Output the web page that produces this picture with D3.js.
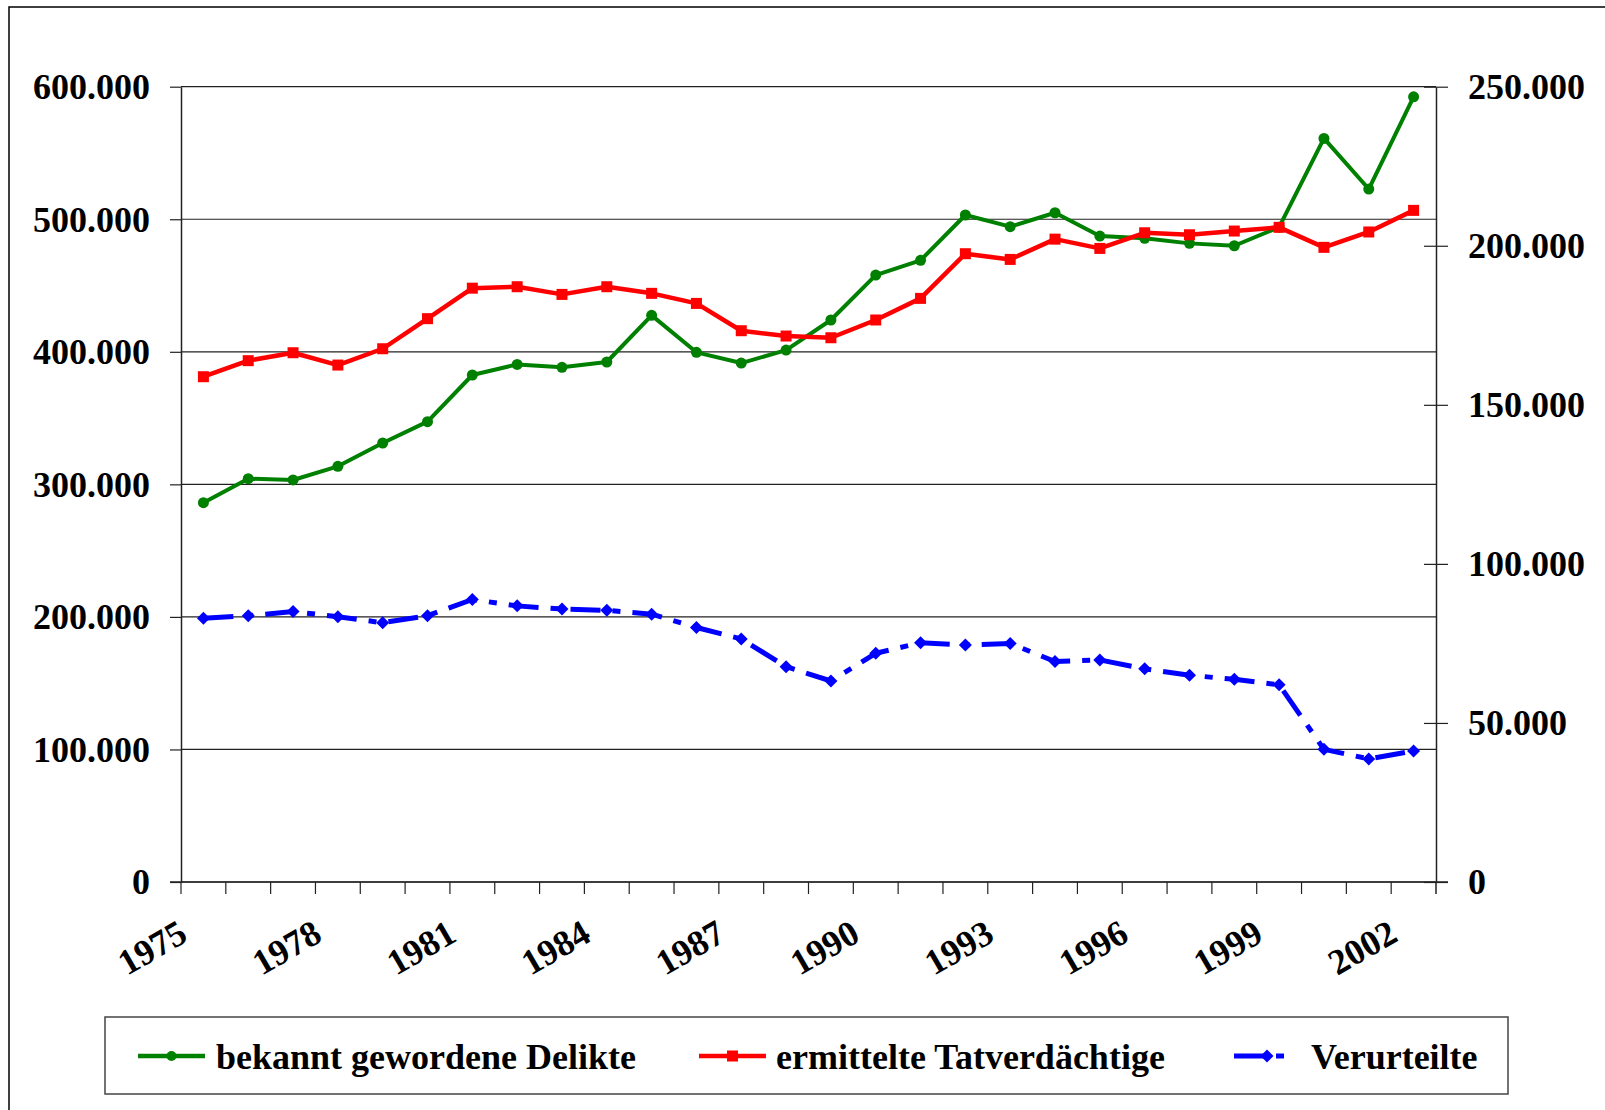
<!DOCTYPE html>
<html>
<head>
<meta charset="utf-8">
<script src="https://cdn.jsdelivr.net/npm/d3@7"></script>
<style>
  html, body { margin: 0; padding: 0; background: #fff; }
  svg { display: block; }
  text { font-family: "Liberation Serif", "Times New Roman", serif; font-weight: bold; fill: #000; }
</style>
</head>
<body>
<svg id="chart" width="1605" height="1110"></svg>
<script>
const years = [1975,1976,1977,1978,1979,1980,1981,1982,1983,1984,1985,1986,1987,1988,1989,
               1990,1991,1992,1993,1994,1995,1996,1997,1998,1999,2000,2001,2002];
const labelYears = [1975,1978,1981,1984,1987,1990,1993,1996,1999,2002];
// bekannt gewordene Delikte (left axis)
const delikte = [286200,304300,303300,313600,331200,347300,382500,390500,388300,392300,427500,399600,391500,401300,424000,
                 457900,469000,503200,494400,504900,487300,485600,481800,480000,494000,561000,522800,592400];
// ermittelte Tatverdächtige (left axis)
const tatverdaechtige = [381200,393300,399300,390000,402300,425000,448000,449100,443300,449100,444100,436500,415900,411900,410600,
                         424000,440300,474000,469700,485000,478000,489800,488300,491100,493900,478800,490400,506700];
// Verurteilte (right axis)
const verurteilte = [82900,83700,85000,83400,81500,83700,88800,86800,85800,85400,84200,80000,76400,67700,63200,
                     71900,75200,74500,75000,69300,69800,67000,65000,63700,62000,41700,38700,41200];
const leftTicks = [0,100000,200000,300000,400000,500000,600000];
const rightTicks = [0,50000,100000,150000,200000,250000];
const seriesNames = ["bekannt gewordene Delikte","ermittelte Tatverdächtige","Verurteilte"];

const svg = d3.select("#chart");
const locale = d3.formatLocale({decimal: ",", thousands: ".", grouping: [3], currency: ["", " €"]});
const fmt = locale.format(",");

const plotL = 181, plotR = 1436, plotT = 86.7, plotB = 882;
const x = d3.scaleBand().domain(years).range([plotL, plotR]).padding(0);
const yL = d3.scaleLinear().domain([0, 600000]).range([plotB, plotT]);
const yR = d3.scaleLinear().domain([0, 250000]).range([plotB, plotT]);
const cx = d => x(d) + x.bandwidth() / 2;

// outer border
svg.append("rect").attr("x", 9).attr("y", 7).attr("width", 1620).attr("height", 1130)
  .attr("fill", "none").attr("stroke", "#000").attr("stroke-width", 1.5);

// gridlines
svg.append("g").selectAll("line").data(leftTicks).join("line")
  .attr("x1", plotL).attr("x2", plotR)
  .attr("y1", d => yL(d)).attr("y2", d => yL(d))
  .attr("stroke", "#222").attr("stroke-width", 1.2);

// left axis
const gL = svg.append("g").attr("transform", `translate(${plotL},0)`)
  .call(d3.axisLeft(yL).tickValues(leftTicks).tickFormat(fmt).tickSizeInner(11).tickSizeOuter(0).tickPadding(20));
gL.select(".domain").attr("stroke", "#222").attr("stroke-width", 1.5);
gL.selectAll(".tick line").attr("stroke", "#222").attr("stroke-width", 1.2);
gL.selectAll(".tick text").attr("font-size", 36).attr("font-family", "Liberation Serif").attr("font-weight", "bold")
  .attr("dy", "0.33em");

// right axis
const gR = svg.append("g").attr("transform", `translate(${plotR},0)`)
  .call(d3.axisRight(yR).tickValues(rightTicks).tickFormat(fmt).tickSizeInner(12).tickSizeOuter(0).tickPadding(20));
gR.select(".domain").attr("stroke", "#222").attr("stroke-width", 1.5);
gR.selectAll(".tick line").attr("x1", -12).attr("stroke", "#222").attr("stroke-width", 1.2);
gR.selectAll(".tick text").attr("font-size", 36).attr("font-family", "Liberation Serif").attr("font-weight", "bold")
  .attr("dy", "0.33em");
gR.append("line").attr("x1", 0).attr("x2", 0).attr("y1", plotB).attr("y2", plotB + 12)
  .attr("stroke", "#222").attr("stroke-width", 1.5);

// x axis
const gX = svg.append("g");
gX.append("line").attr("x1", plotL - 11).attr("x2", plotR + 12).attr("y1", plotB).attr("y2", plotB)
  .attr("stroke", "#222").attr("stroke-width", 1.5);
gX.selectAll("line.tk").data(years).join("line").attr("class", "tk")
  .attr("x1", d => x(d)).attr("x2", d => x(d)).attr("y1", plotB).attr("y2", plotB + 12)
  .attr("stroke", "#222").attr("stroke-width", 1.2);
gX.selectAll("text").data(labelYears).join("text")
  .attr("text-anchor", "end").attr("font-size", 36)
  .attr("transform", d => `translate(${cx(d) - 14},940) rotate(-30)`)
  .text(d => d);

// lines
const lineL = d3.line().x((d, i) => cx(years[i])).y(d => yL(d));
const lineR = d3.line().x((d, i) => cx(years[i])).y(d => yR(d));

// green
svg.append("path").datum(delikte).attr("d", lineL).attr("fill", "none")
  .attr("stroke", "#008000").attr("stroke-width", 4).attr("stroke-linejoin", "round");
svg.append("g").selectAll("circle").data(delikte).join("circle")
  .attr("cx", (d, i) => cx(years[i])).attr("cy", d => yL(d)).attr("r", 5.5).attr("fill", "#008000");

// red
svg.append("path").datum(tatverdaechtige).attr("d", lineL).attr("fill", "none")
  .attr("stroke", "#ff0000").attr("stroke-width", 4.5).attr("stroke-linejoin", "round");
svg.append("g").selectAll("rect").data(tatverdaechtige).join("rect")
  .attr("x", (d, i) => cx(years[i]) - 5.5).attr("y", d => yL(d) - 5.5)
  .attr("width", 11).attr("height", 11).attr("fill", "#ff0000");

// blue
const dash = "30,12,8,12";
svg.append("path").datum(verurteilte).attr("d", lineR).attr("fill", "none")
  .attr("stroke", "#0000ff").attr("stroke-width", 5).attr("stroke-dasharray", dash);
const diamond = "M0,-6.5L6.5,0L0,6.5L-6.5,0Z";
svg.append("g").selectAll("path").data(verurteilte).join("path")
  .attr("d", diamond).attr("transform", (d, i) => `translate(${cx(years[i])},${yR(d)})`)
  .attr("fill", "#0000ff");

// legend
const lg = svg.append("g");
lg.append("rect").attr("x", 105).attr("y", 1017).attr("width", 1403).attr("height", 77)
  .attr("fill", "#fff").attr("stroke", "#444").attr("stroke-width", 1.5);
const legendItems = [
  {name: seriesNames[0], color: "#008000", x1: 138, x2: 205, tx: 216, type: "circle"},
  {name: seriesNames[1], color: "#ff0000", x1: 699, x2: 766, tx: 776, type: "square"},
  {name: seriesNames[2], color: "#0000ff", x1: 1234, x2: 1296, tx: 1311, type: "diamond"}
];
const ly = 1056;
legendItems.forEach(it => {
  const g = lg.append("g");
  g.append("line").attr("x1", it.x1).attr("x2", it.x2).attr("y1", ly).attr("y2", ly)
    .attr("stroke", it.color).attr("stroke-width", it.type === "diamond" ? 5 : 4.5)
    .attr("stroke-dasharray", it.type === "diamond" ? dash : null);
  const mx = it.type === "diamond" ? 1267 : (it.x1 + it.x2) / 2;
  if (it.type === "circle") g.append("circle").attr("cx", mx).attr("cy", ly).attr("r", 5).attr("fill", it.color);
  if (it.type === "square") g.append("rect").attr("x", mx - 5.5).attr("y", ly - 5.5).attr("width", 11).attr("height", 11).attr("fill", it.color);
  if (it.type === "diamond") g.append("path").attr("d", diamond).attr("transform", `translate(${mx},${ly})`).attr("fill", it.color);
  g.append("text").attr("x", it.tx).attr("y", 1069).attr("font-size", 36).text(it.name);
});
</script>
</body>
</html>
